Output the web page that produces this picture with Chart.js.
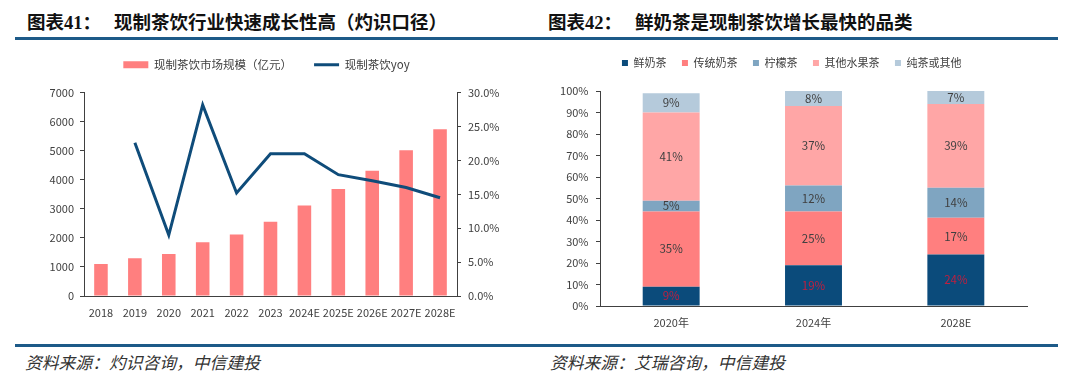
<!DOCTYPE html>
<html>
<head>
<meta charset="utf-8">
<script src="https://cdn.jsdelivr.net/npm/chart.js@4.4.1/dist/chart.umd.min.js"></script>
<style>
html, body { margin: 0; padding: 0; background: #fff; }
body { width: 1080px; height: 385px; position: relative; overflow: hidden; font-family: "Noto Sans CJK SC", sans-serif; }
.title { position: absolute; top: 12px; font-size: 18.5px; line-height: 19px; font-weight: bold; color: #111; white-space: nowrap; }
.title .num { font-family: "Liberation Serif", serif; }
.title .main { margin-left: 13px; }
.rule { position: absolute; left: 15px; width: 1043px; height: 3px; background: #1d5a88; }
.source { position: absolute; top: 352px; font-size: 16.8px; line-height: 20px; font-style: italic; color: #333; white-space: nowrap; }
canvas { position: absolute; }
</style>
</head>
<body>
<div class="title" style="left:27px">图表<span class="num">41</span>：<span class="main">现制茶饮行业快速成长性高（灼识口径）</span></div>
<div class="title" style="left:548px">图表<span class="num">42</span>：<span class="main">鲜奶茶是现制茶饮增长最快的品类</span></div>
<div class="rule" style="top:37px"></div>
<div class="rule" style="top:344px"></div>
<div class="source" style="left:25px">资料来源：灼识咨询，中信建投</div>
<div class="source" style="left:550px">资料来源：艾瑞咨询，中信建投</div>

<canvas id="sizeChart" width="540" height="300" style="left:0;top:37px"></canvas>
<canvas id="mixChart" width="540" height="300" style="left:540px;top:42px"></canvas>

<script>
// left chart
const years = ['2018', '2019', '2020', '2021', '2022', '2023', '2024E', '2025E', '2026E', '2027E', '2028E'];
const marketSize = [1100, 1300, 1450, 1850, 2120, 2560, 3120, 3680, 4310, 5020, 5740];
const marketYoy = [null, 22.6, 9.0, 28.2, 15.2, 21.0, 21.0, 17.9, 17.0, 16.0, 14.5];
const sizeTicks = [0, 1000, 2000, 3000, 4000, 5000, 6000, 7000];
const yoyTicks = [0, 5, 10, 15, 20, 25, 30];

// right chart
const periods = ['2020年', '2024年', '2028E'];
const freshMilkTea = [9, 19, 24];
const classicMilkTea = [35, 25, 17];
const lemonTea = [5, 12, 14];
const otherFruitTea = [41, 37, 39];
const pureTeaOther = [9, 8, 7];
const shareTicks = [0, 10, 20, 30, 40, 50, 60, 70, 80, 90, 100];

Chart.defaults.font.family = '"Noto Sans CJK SC", "Noto Sans", sans-serif';
Chart.defaults.font.size = 11;
Chart.defaults.color = '#404040';

const axisColor = '#404040';
const navy = '#0f4c7a';

// empty subtitle used as a gap between legend and plot
const spacer = (gap) => ({ display: true, text: '', weight: 500, position: 'top', font: { size: 1 }, padding: { top: 0, bottom: gap } });

new Chart(document.getElementById('sizeChart'), {
    type: 'bar',
    data: {
        labels: years,
        datasets: [
            {
                label: '现制茶饮市场规模（亿元）',
                data: marketSize,
                backgroundColor: '#ff7f7f',
                barPercentage: 0.4,
                categoryPercentage: 1,
                yAxisID: 'y',
                order: 1,
            },
            {
                type: 'line',
                label: '现制茶饮yoy',
                data: marketYoy,
                borderColor: navy,
                backgroundColor: navy,
                borderWidth: 3,
                pointRadius: 0,
                tension: 0,
                yAxisID: 'y1',
                order: 0,
            },
        ],
    },
    options: {
        responsive: false,
        animation: false,
        layout: { padding: { left: 0, right: 7, top: 0, bottom: 0 } },
        plugins: {
            tooltip: { enabled: false },
            subtitle: spacer(11),
            legend: {
                labels: {
                    usePointStyle: true,
                    pointStyleWidth: 25,
                    boxHeight: 7,
                    padding: 22,
                    font: { size: 11.5 },
                    generateLabels: (chart) => {
                        const items = Chart.defaults.plugins.legend.labels.generateLabels(chart);
                        items.sort((a, b) => a.datasetIndex - b.datasetIndex);
                        items.forEach((it) => {
                            if (it.datasetIndex === 0) {
                                it.pointStyle = 'rect';
                                it.lineWidth = 0;
                            } else {
                                it.pointStyle = 'line';
                                it.lineWidth = 3;
                                it.strokeStyle = navy;
                            }
                        });
                        return items;
                    },
                },
            },
        },
        scales: {
            x: {
                grid: { display: false },
                border: { color: axisColor },
                ticks: { padding: 2, autoSkip: false, maxRotation: 0 },
                afterFit: (s) => { s.height = 41; },
            },
            y: {
                min: 0,
                max: 7000,
                afterBuildTicks: (s) => { s.ticks = sizeTicks.map(v => ({ value: v })); },
                ticks: { padding: 6, callback: (v) => String(v) },
                grid: { drawOnChartArea: false, tickLength: 4, color: axisColor },
                border: { color: axisColor },
                afterFit: (s) => { s.width = 84; },
            },
            y1: {
                position: 'right',
                min: 0,
                max: 30,
                afterBuildTicks: (s) => { s.ticks = yoyTicks.map(v => ({ value: v })); },
                ticks: { padding: 7, callback: (v) => v.toFixed(1) + '%' },
                grid: { drawOnChartArea: false, tickLength: 4, color: axisColor },
                border: { color: axisColor },
                afterFit: (s) => { s.width = 76; },
            },
        },
    },
});

const segmentLabels = {
    id: 'segmentLabels',
    afterDatasetsDraw(chart) {
        const { ctx, chartArea } = chart;
        ctx.save();
        ctx.font = '11.5px "Noto Sans CJK SC", sans-serif';
        ctx.textAlign = 'center';
        ctx.textBaseline = 'middle';
        chart.data.datasets.forEach((ds, i) => {
            chart.getDatasetMeta(i).data.forEach((bar, j) => {
                const top = Math.max(bar.y, chartArea.top);
                ctx.fillStyle = i === 0 ? '#c01f3f' : '#404040';
                ctx.fillText(ds.data[j] + '%', bar.x, (top + bar.base) / 2);
            });
        });
        ctx.restore();
    },
};

const segment = (label, data, color) => ({
    label,
    data,
    backgroundColor: color,
    barPercentage: 0.4,
    categoryPercentage: 1,
});

new Chart(document.getElementById('mixChart'), {
    type: 'bar',
    data: {
        labels: periods,
        datasets: [
            segment('鲜奶茶', freshMilkTea, '#0b4b7b'),
            segment('传统奶茶', classicMilkTea, '#ff7f7f'),
            segment('柠檬茶', lemonTea, '#7fa5c1'),
            segment('其他水果茶', otherFruitTea, '#ffa6a6'),
            segment('纯茶或其他', pureTeaOther, '#b5cadb'),
        ],
    },
    options: {
        responsive: false,
        animation: false,
        layout: { padding: { left: 16.4, right: 53, top: 0, bottom: 0 } },
        plugins: {
            tooltip: { enabled: false },
            subtitle: spacer(11.3),
            legend: {
                labels: { boxWidth: 6, boxHeight: 6, padding: 15.5, font: { size: 11 } },
            },
        },
        scales: {
            x: {
                stacked: true,
                grid: { display: false },
                border: { color: axisColor },
                ticks: { padding: 2 },
                afterFit: (s) => { s.height = 36; },
            },
            y: {
                stacked: true,
                min: 0,
                max: 100,
                afterBuildTicks: (s) => { s.ticks = shareTicks.map(v => ({ value: v })); },
                ticks: { padding: 7.5, callback: (v) => v + '%' },
                grid: { drawOnChartArea: false, tickLength: 4, color: axisColor },
                border: { color: axisColor },
                afterFit: (s) => { s.width = 43.6; },
            },
        },
    },
    plugins: [segmentLabels],
});
</script>
</body>
</html>
